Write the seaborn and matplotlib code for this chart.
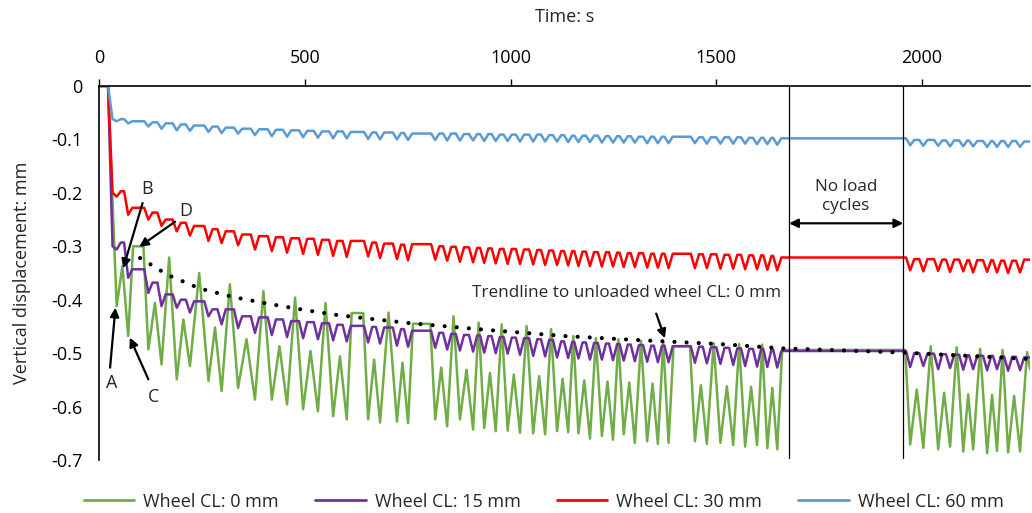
import matplotlib
matplotlib.use("Agg")
import matplotlib.pyplot as plt
from matplotlib.lines import Line2D
import pandas as pd
import seaborn as sns

# ---------------- data ----------------
# times (s) of the load-cycle minima
cycle_t = [43, 71, 120, 152, 189, 221, 266, 298, 338, 379,
           420, 457, 496, 532, 569, 602, 654, 683, 724, 751,
           817, 846, 877, 909, 936, 964, 993, 1023, 1055, 1084,
           1113, 1140, 1165, 1193, 1222, 1249, 1275, 1302, 1332, 1358,
           1384, 1448, 1477, 1510, 1541, 1570, 1599, 1624, 1648,
           1971, 2003, 2039, 2068, 2100, 2124, 2158, 2182, 2209, 2238]

# Wheel CL: 0 mm  (minimum at each cycle, peak after each cycle)
green_trough = [-0.412, -0.468, -0.493, -0.521, -0.549, -0.524, -0.552, -0.571, -0.565, -0.587,
                -0.587, -0.596, -0.605, -0.609, -0.618, -0.624, -0.624, -0.630, -0.628, -0.631,
                -0.624, -0.637, -0.624, -0.643, -0.640, -0.646, -0.645, -0.649, -0.650, -0.652,
                -0.646, -0.648, -0.650, -0.660, -0.655, -0.662, -0.652, -0.668, -0.665, -0.670,
                -0.668, -0.665, -0.670, -0.668, -0.672, -0.675, -0.672, -0.678, -0.680,
                -0.671, -0.677, -0.680, -0.675, -0.684, -0.680, -0.687, -0.683, -0.686, -0.684]
green_peak = [-0.337, -0.300, -0.406, -0.321, -0.437, -0.350, -0.452, -0.371, -0.474, -0.384,
              -0.487, -0.396, -0.496, -0.406, -0.506, -0.425, -0.512, -0.424, -0.518, -0.445,
              -0.527, -0.431, -0.531, -0.443, -0.537, -0.446, -0.540, -0.449, -0.543, -0.455,
              -0.548, -0.468, -0.551, -0.472, -0.553, -0.474, -0.555, -0.477, -0.557, -0.479,
              -0.487, -0.560, -0.481, -0.562, -0.483, -0.563, -0.484, -0.565, -0.494,
              -0.568, -0.487, -0.574, -0.489, -0.577, -0.492, -0.578, -0.494, -0.580, -0.498]
green_end = -0.530

# Wheel CL: 15 mm (level before each dip, bottom of each dip)
purple_top = [-0.300, -0.293, -0.343, -0.368, -0.390, -0.400, -0.403, -0.418, -0.418, -0.431,
              -0.433, -0.437, -0.440, -0.442, -0.444, -0.447, -0.449, -0.451, -0.452, -0.455,
              -0.458, -0.462, -0.464, -0.466, -0.467, -0.468, -0.470, -0.471, -0.472, -0.474,
              -0.475, -0.478, -0.479, -0.480, -0.481, -0.482, -0.483, -0.484, -0.485, -0.486,
              -0.486, -0.487, -0.488, -0.489, -0.490, -0.491, -0.492, -0.492, -0.493,
              -0.496, -0.500, -0.501, -0.502, -0.503, -0.504, -0.505, -0.505, -0.506, -0.507]
purple_dip = [-0.306, -0.359, -0.387, -0.412, -0.415, -0.424, -0.431, -0.446, -0.453, -0.462,
              -0.466, -0.470, -0.472, -0.474, -0.476, -0.478, -0.480, -0.482, -0.486, -0.488,
              -0.490, -0.493, -0.495, -0.497, -0.499, -0.500, -0.501, -0.503, -0.505, -0.506,
              -0.508, -0.509, -0.510, -0.512, -0.512, -0.513, -0.514, -0.515, -0.516, -0.517,
              -0.517, -0.518, -0.519, -0.520, -0.522, -0.524, -0.525, -0.526, -0.527,
              -0.526, -0.524, -0.530, -0.528, -0.531, -0.530, -0.532, -0.530, -0.533, -0.532]
purple_end = -0.508

# Wheel CL: 30 mm
red_top = [-0.200, -0.197, -0.228, -0.237, -0.250, -0.256, -0.262, -0.268, -0.272, -0.278,
           -0.281, -0.283, -0.285, -0.286, -0.288, -0.290, -0.290, -0.293, -0.295, -0.297,
           -0.296, -0.300, -0.301, -0.302, -0.303, -0.304, -0.305, -0.305, -0.306, -0.307,
           -0.308, -0.309, -0.309, -0.310, -0.311, -0.311, -0.312, -0.313, -0.313, -0.314,
           -0.314, -0.314, -0.315, -0.315, -0.316, -0.316, -0.317, -0.317, -0.318,
           -0.321, -0.324, -0.324, -0.325, -0.325, -0.326, -0.326, -0.326, -0.327, -0.327]
red_dip = [-0.207, -0.241, -0.250, -0.262, -0.272, -0.280, -0.290, -0.294, -0.298, -0.306,
           -0.309, -0.312, -0.314, -0.316, -0.318, -0.320, -0.319, -0.322, -0.324, -0.326,
           -0.325, -0.327, -0.329, -0.330, -0.331, -0.332, -0.333, -0.333, -0.334, -0.335,
           -0.335, -0.336, -0.337, -0.337, -0.338, -0.338, -0.339, -0.339, -0.340, -0.340,
           -0.341, -0.341, -0.341, -0.342, -0.342, -0.343, -0.343, -0.344, -0.345,
           -0.345, -0.347, -0.346, -0.348, -0.347, -0.349, -0.348, -0.349, -0.350, -0.349]
red_end = -0.325

# Wheel CL: 60 mm
blue_top = [-0.062, -0.062, -0.066, -0.068, -0.070, -0.072, -0.074, -0.076, -0.078, -0.080,
            -0.081, -0.082, -0.083, -0.084, -0.085, -0.085, -0.086, -0.087, -0.087, -0.088,
            -0.089, -0.089, -0.089, -0.090, -0.090, -0.090, -0.091, -0.091, -0.091, -0.091,
            -0.092, -0.092, -0.093, -0.093, -0.093, -0.094, -0.094, -0.094, -0.095, -0.095,
            -0.095, -0.095, -0.096, -0.096, -0.096, -0.096, -0.097, -0.097, -0.097,
            -0.098, -0.101, -0.101, -0.102, -0.102, -0.102, -0.103, -0.103, -0.103, -0.103]
blue_dip = [-0.066, -0.070, -0.076, -0.080, -0.083, -0.084, -0.086, -0.088, -0.089, -0.092,
            -0.094, -0.095, -0.096, -0.097, -0.098, -0.098, -0.099, -0.100, -0.100, -0.101,
            -0.101, -0.102, -0.102, -0.102, -0.103, -0.103, -0.103, -0.104, -0.104, -0.104,
            -0.104, -0.105, -0.105, -0.105, -0.106, -0.106, -0.106, -0.106, -0.107, -0.107,
            -0.107, -0.107, -0.108, -0.108, -0.108, -0.108, -0.109, -0.109, -0.110,
            -0.111, -0.112, -0.112, -0.113, -0.113, -0.113, -0.114, -0.114, -0.114, -0.114]
blue_end = -0.104

# dotted trendline to unloaded wheel CL: 0 mm
trend_t = [100, 168, 245, 326, 407, 497, 582, 756, 950, 1132, 1320, 1509, 1660, 1810, 1954, 2110, 2262]
trend_v = [-0.322, -0.354, -0.379, -0.395, -0.407, -0.419, -0.429, -0.444, -0.457, -0.468,
           -0.476, -0.483, -0.491, -0.495, -0.499, -0.505, -0.511]

t_start, t_load, t_last = 0, 22, 2262
no_load_start, no_load_end = 1677, 1954

series_names = ["Wheel CL: 0 mm", "Wheel CL: 15 mm", "Wheel CL: 30 mm", "Wheel CL: 60 mm"]
series_colors = ["#70AD47", "#7030A0", "#FF0000", "#5B9BD5"]

x_ticks = [0, 500, 1000, 1500, 2000]
y_ticks = [0, -0.1, -0.2, -0.3, -0.4, -0.5, -0.6, -0.7]
y_tick_labels = ["0", "-0.1", "-0.2", "-0.3", "-0.4", "-0.5", "-0.6", "-0.7"]

# ---------------- build line vertices ----------------
HALF = 10     # half width of a dip (s)
PLAT = 12     # plateau inset for long gaps (s)


def zigzag(trough, peak, end):
    t, v = [t_start, t_load], [0.0, 0.0]
    n = len(cycle_t)
    for i in range(n):
        t.append(cycle_t[i]); v.append(trough[i])
        if i + 1 < n:
            gap = cycle_t[i + 1] - cycle_t[i]
            if gap > 48:
                t += [cycle_t[i] + PLAT, cycle_t[i + 1] - PLAT]; v += [peak[i], peak[i]]
            else:
                t.append((cycle_t[i] + cycle_t[i + 1]) / 2); v.append(peak[i])
        else:
            t.append(cycle_t[i] + 17); v.append(peak[i])
    t.append(t_last); v.append(end)
    return t, v


def scallop(top, dip, end):
    t, v = [t_start, t_load], [0.0, 0.0]
    n = len(cycle_t)
    for i in range(n):
        nxt = top[i + 1] if i + 1 < n else end
        t += [cycle_t[i] - HALF, cycle_t[i], cycle_t[i] + HALF]
        v += [top[i], dip[i], nxt]
    t.append(t_last); v.append(end)
    return t, v


frames = []
for name, (tt, vv) in zip(series_names, [zigzag(green_trough, green_peak, green_end),
                                         scallop(purple_top, purple_dip, purple_end),
                                         scallop(red_top, red_dip, red_end),
                                         scallop(blue_top, blue_dip, blue_end)]):
    frames.append(pd.DataFrame({"t": tt, "v": vv, "series": name}))
df = pd.concat(frames, ignore_index=True)
trend_df = pd.DataFrame({"t": trend_t, "v": trend_v})

# ---------------- plot ----------------
sns.set_style("white")
plt.rcParams["font.family"] = ["Open Sans", "DejaVu Sans"]
plt.rcParams["axes.unicode_minus"] = False

fig = plt.figure(figsize=(10.32, 5.13), dpi=100)
ax = fig.add_axes([0.0959, 0.1033, 0.9021, 0.7291])

sns.lineplot(data=df, x="t", y="v", hue="series", hue_order=series_names,
             palette=dict(zip(series_names, series_colors)), sort=False,
             estimator=None, linewidth=1.8, legend=False, ax=ax)
sns.lineplot(data=trend_df, x="t", y="v", color="black", sort=False, estimator=None,
             linewidth=3.0, ax=ax, legend=False)
ax.lines[-1].set_dashes([0.01, 2.9])
ax.lines[-1].set_dash_capstyle("round")
ax.lines[-1].set_zorder(5)

# no-load boundaries
for tx in (no_load_start, no_load_end):
    ax.plot([tx, tx], [0, -0.697], color="black", lw=0.9, zorder=4)

ax.set_xlim(0, 2262)
ax.set_ylim(-0.7, 0)
ax.xaxis.set_ticks_position("top")
ax.xaxis.set_label_position("top")
ax.set_xticks(x_ticks)
ax.set_yticks(y_ticks)
ax.set_yticklabels(y_tick_labels)
ax.tick_params(axis="x", direction="out", length=5, width=1, pad=9, labelsize=13, colors="black")
ax.tick_params(axis="y", direction="out", length=5, width=1, pad=7, labelsize=13, colors="black")
for s in ("bottom", "right"):
    ax.spines[s].set_visible(False)
for s in ("top", "left"):
    ax.spines[s].set_visible(True)
    ax.spines[s].set_color("black")
    ax.spines[s].set_linewidth(1.2)
ax.set_xlabel("Time: s", fontsize=13, labelpad=19)
ax.set_ylabel("Vertical displacement: mm", fontsize=13, labelpad=14)

# annotations
akw = dict(arrowstyle="-|>", color="black", lw=1.6, mutation_scale=13, shrinkA=0, shrinkB=0)
fs = 13
ax.annotate("", xy=(40, -0.415), xytext=(27, -0.527), arrowprops=akw)
ax.text(31, -0.556, "A", fontsize=fs, ha="center", va="center")
ax.annotate("", xy=(59, -0.341), xytext=(106, -0.219), arrowprops=akw)
ax.text(117, -0.192, "B", fontsize=fs, ha="center", va="center")
ax.annotate("", xy=(75, -0.471), xytext=(120, -0.549), arrowprops=akw)
ax.text(132, -0.582, "C", fontsize=fs, ha="center", va="center")
ax.annotate("", xy=(98, -0.301), xytext=(185, -0.254), arrowprops=akw)
ax.text(210, -0.234, "D", fontsize=fs, ha="center", va="center")

ax.text(1282, -0.388, "Trendline to unloaded wheel CL: 0 mm", fontsize=12.3, ha="center", va="center")
ax.annotate("", xy=(1375, -0.472), xytext=(1354, -0.426), arrowprops=akw)

ax.text(1815, -0.207, "No load\ncycles", fontsize=12.3, ha="center", va="center", linespacing=1.3)
ax.annotate("", xy=(no_load_end, -0.257), xytext=(no_load_start, -0.257),
            arrowprops=dict(arrowstyle="<|-|>", color="black", lw=1.6, mutation_scale=13,
                            shrinkA=0, shrinkB=0))

handles = [Line2D([0], [0], color=c, lw=2) for c in series_colors]
fig.legend(handles, series_names, loc="center", bbox_to_anchor=(0.527, 0.022), ncol=4,
           frameon=False, fontsize=13, handlelength=2.8, handletextpad=0.5, columnspacing=2.0)

fig.savefig("out.png", dpi=100)
